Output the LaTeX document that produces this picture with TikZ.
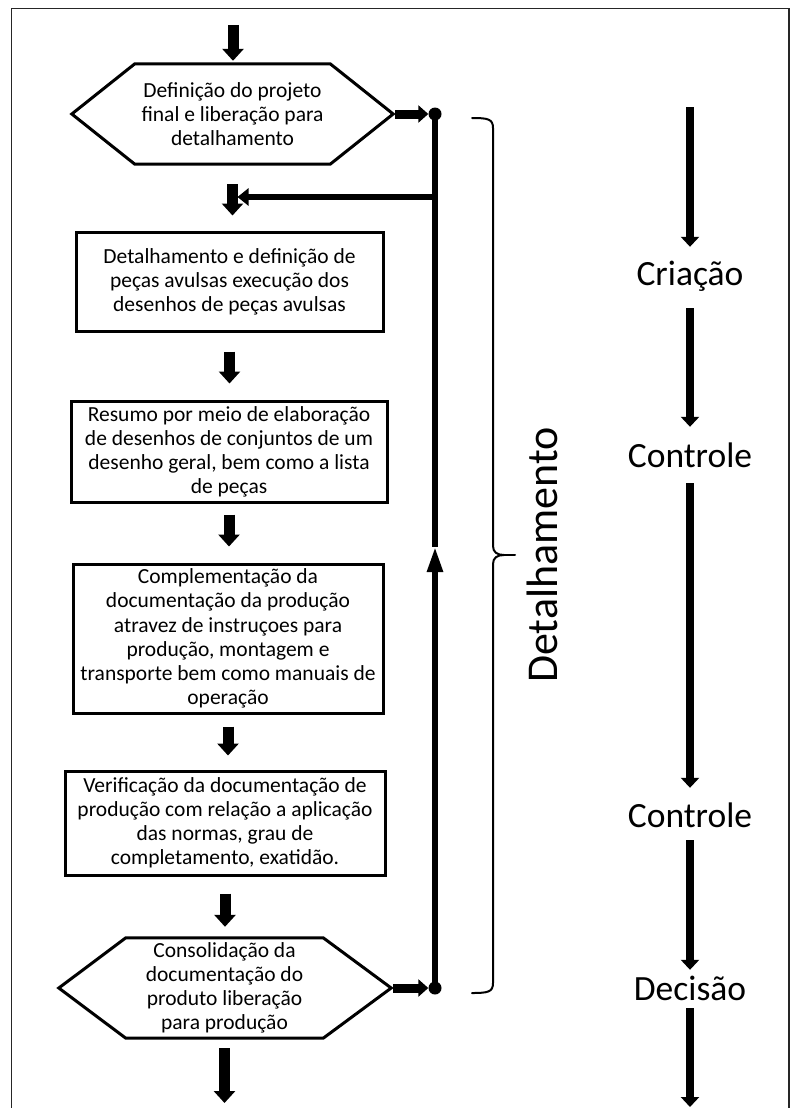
\documentclass[tikz,border=0pt]{standalone}
\usepackage{fontspec}
\setmainfont{Carlito}
\usetikzlibrary{arrows.meta,calc}
\begin{document}
\begin{tikzpicture}[x=1pt,y=-1pt,
  boxtext/.style={font=\fontsize{21.5}{24}\selectfont, align=center, inner sep=0pt},
  stepbox/.style={boxtext, draw, line width=3pt},
  hexbody/.style={boxtext},
  hexline/.style={line width=3pt, line join=miter},
  flowarrow/.style={line width=11pt, -{Triangle[length=12pt,width=21pt]}},
  sidearrow/.style={line width=9pt, -{Triangle[length=10pt,width=17pt]}},
  loopline/.style={line width=5.5pt},
  dot/.style={circle, fill=black, inner sep=0pt, minimum size=13pt},
  phase/.style={font=\fontsize{35.5}{40}\selectfont, inner sep=0pt, text height=24pt, text depth=7pt, anchor=base},
  phasearrow/.style={line width=8pt, -{Triangle[length=10pt,width=18pt]}},
  bracepath/.style={line width=2pt, line cap=round}
]
\useasboundingbox (0,0) rectangle (800,1108);

% outer frame (open at the bottom)
\draw[line width=1.3pt, black!85] (11.5,1108) -- (11.5,8.5) -- (789,8.5) -- (789,1108);

% ---- main column ----
\node[hexbody, minimum width=195pt, minimum height=100pt] (h1) at (232.5,114)
  {Definição do projeto\\final e liberação para\\detalhamento};
\draw[hexline] (h1.north west) -- (h1.north east) -- ($(h1.east)+(63,0)$)
  -- (h1.south east) -- (h1.south west) -- ($(h1.west)+(-63,0)$) -- cycle;
\coordinate (h1r) at ($(h1.east)+(63,0)$);

\node[stepbox, minimum width=307pt, minimum height=99pt] (b1) at (229.5,281.5)
  {Detalhamento e definição de\\peças avulsas execução dos\\desenhos de peças avulsas};
\node[stepbox, minimum width=316pt, minimum height=101pt] (b2) at (229,451.5)
  {Resumo por meio de elaboração\\de desenhos de conjuntos de um\\desenho geral, bem como a lista\\de peças};
\node[stepbox, minimum width=310pt, minimum height=149pt,
      font=\fontsize{21.5}{24.2}\selectfont] (b3) at (228,638.5)
  {Complementação da\\documentação da produção\\atravez de instruçoes para\\produção, montagem e\\transporte bem como manuais de\\operação};
\node[stepbox, minimum width=320pt, minimum height=104pt] (b4) at (225,823)
  {Verificação da documentação de\\produção com relação a aplicação\\das normas, grau de\\completamento, exatidão.};

\node[hexbody, minimum width=197pt, minimum height=100pt] (h2) at (224.5,988)
  {Consolidação da\\documentação do\\produto liberação\\para produção};
\draw[hexline] (h2.north west) -- (h2.north east) -- ($(h2.east)+(68,0)$)
  -- (h2.south east) -- (h2.south west) -- ($(h2.west)+(-67,0)$) -- cycle;
\coordinate (h2r) at ($(h2.east)+(68,0)$);

% flow arrows
\coordinate (start) at (233,25);
\coordinate (finish) at (222,1103);
\draw[flowarrow, shorten >=3pt] (start) -- (start |- h1.north);
\draw[flowarrow, shorten <=20pt, shorten >=15pt] (h1.south) -- (h1.south |- b1.north);
\draw[flowarrow, shorten <=19pt, shorten >=16pt] (b1.south) -- (b1.south |- b2.north);
\draw[flowarrow, shorten <=11pt, shorten >=16pt] (b2.south) -- (b2.south |- b3.north);
\draw[flowarrow, shorten <=12pt, shorten >=14pt] (b3.south) -- (b3.south |- b4.north);
\draw[flowarrow, shorten <=17pt, shorten >=11pt] (b4.south) -- (b4.south |- h2.north);
\draw[flowarrow, shorten <=10pt] (h2.south) -- (h2.south |- finish);

% ---- feedback loop ----
\node[dot] (d1) at (435,114) {};
\node[dot] (d2) at (435,988) {};
\draw[sidearrow, shorten <=2pt] (h1r) -- (d1);
\draw[sidearrow, shorten <=2pt] (h2r) -- (d2);
\coordinate (up) at (435,547);
\coordinate (j1) at (435,197);
\draw[loopline] (d1.center) -- (up);
\draw[loopline, -{Triangle[length=25pt,width=15pt]}] (d2.center) -- (up);
\draw[loopline, -{Triangle[length=11pt,width=17pt]}, shorten >=5pt] (j1) -- (j1 -| h1.south);

% ---- brace and phase name ----
\draw[bracepath] (472,118) .. controls (488,118) and (493,119) .. (493,128)
  -- (493,546) .. controls (493,552) and (497,555) .. (504,555)
  .. controls (497,555) and (493,558) .. (493,564)
  -- (493,983) .. controls (493,992) and (488,993) .. (472,993);
\draw[bracepath] (504,555) -- (515,555);
\node[rotate=90, anchor=base, font=\fontsize{44}{48}\selectfont, inner sep=0pt] (det) at (557,555) {Detalhamento};

% ---- activity sequence on the right ----
\coordinate (r0) at (690,107);
\coordinate (r5) at (690,1107);
\node[phase] (cria) at (690,285) {Criação};
\node[phase] (ctrl1) at (690,467) {Controle};
\node[phase] (ctrl2) at (690,827) {Controle};
\node[phase] (deci) at (690,1000) {Decisão};
\draw[phasearrow, shorten >=14pt] (r0) -- (cria.north);
\draw[phasearrow, shorten <=16pt, shorten >=16pt] (cria.south) -- (ctrl1.north);
\draw[phasearrow, shorten <=9pt, shorten >=15pt] (ctrl1.south) -- (ctrl2.north);
\draw[phasearrow, shorten <=6pt, shorten >=6pt] (ctrl2.south) -- (deci.north);
\draw[phasearrow, shorten <=1pt] (deci.south) -- (r5);
\end{tikzpicture}
\end{document}
